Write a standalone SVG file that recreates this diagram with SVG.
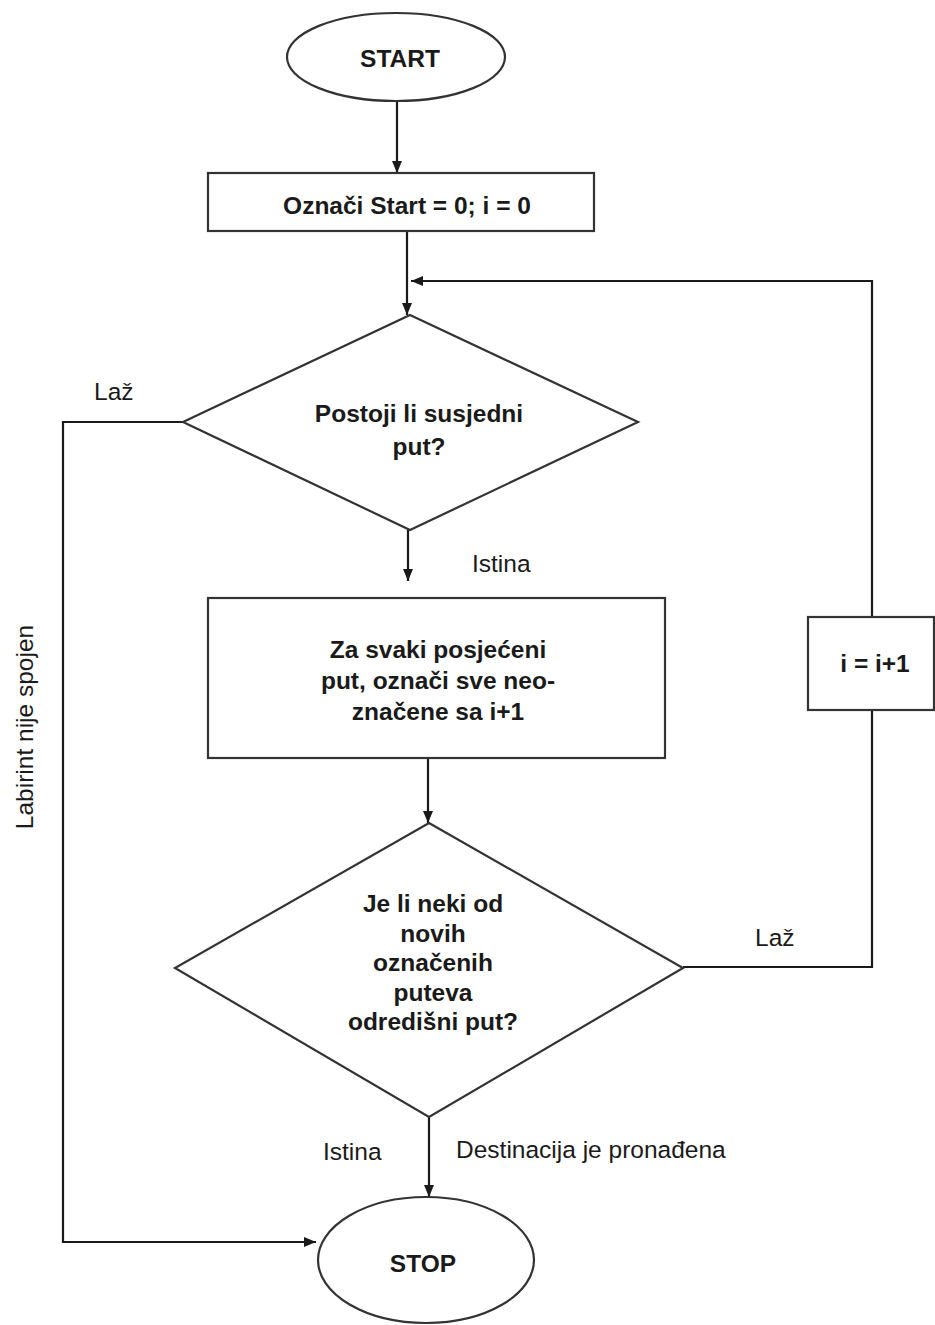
<svg xmlns="http://www.w3.org/2000/svg" width="935" height="1325" viewBox="0 0 935 1325">
<defs>
<marker id="ah" viewBox="0 0 12 10" refX="12" refY="5" markerWidth="12" markerHeight="10" markerUnits="userSpaceOnUse" orient="auto">
<path d="M0,0 L12,5 L0,10 Z" fill="#1a1a1a"/>
</marker>
<style>
.shape{fill:#fff;stroke:#333;stroke-width:2.2}
.conn{fill:none;stroke:#1a1a1a;stroke-width:2.2}
.b{font-family:"Liberation Sans",Arial,sans-serif;font-weight:bold;font-size:24.5px;fill:#1a1a1a;text-anchor:middle}
.l{font-family:"Liberation Sans",Arial,sans-serif;font-size:24.5px;fill:#1a1a1a}
</style>
</defs>
<rect width="935" height="1325" fill="#fff"/>
<g id="connectors">
<path class="conn" d="M397,101 V173" marker-end="url(#ah)"/>
<path class="conn" d="M407,231 V315" marker-end="url(#ah)"/>
<path class="conn" d="M872,617 V281 H411" marker-end="url(#ah)"/>
<path class="conn" d="M408,530 V581" marker-end="url(#ah)"/>
<path class="conn" d="M428,758 V823" marker-end="url(#ah)"/>
<path class="conn" d="M683,967 H872 V710"/>
<path class="conn" d="M186,422 H63 V1242 H316" marker-end="url(#ah)"/>
<path class="conn" d="M429,1117 V1197" marker-end="url(#ah)"/>
</g>
<g id="labels">
<text class="l" x="94" y="400">Laž</text>
<text class="l" x="472" y="572">Istina</text>
<text class="l" x="755" y="946">Laž</text>
<text class="l" x="323" y="1160">Istina</text>
<text class="l" x="456" y="1158">Destinacija je pronađena</text>
<text class="l" transform="translate(33,727) rotate(-90)" text-anchor="middle">Labirint nije spojen</text>
</g>
<g id="start">
<ellipse class="shape" cx="396" cy="57" rx="109" ry="44"/>
<text class="b" x="400" y="67">START</text>
</g>
<g id="init">
<rect class="shape" x="208" y="173" width="386" height="58"/>
<text class="b" x="407" y="214">Označi Start = 0; i = 0</text>
</g>
<g id="decision1">
<polygon class="shape" points="410,315 638,422 410,530 183,422"/>
<text class="b" x="419" y="422">Postoji li susjedni</text>
<text class="b" x="419" y="455">put?</text>
</g>
<g id="mark">
<rect class="shape" x="208" y="598" width="457" height="160"/>
<text class="b" x="438" y="658">Za svaki posjećeni</text>
<text class="b" x="438" y="689">put, označi sve neo-</text>
<text class="b" x="438" y="720">značene sa i+1</text>
</g>
<g id="decision2">
<polygon class="shape" points="429,823 683,968 429,1117 175,968"/>
<text class="b" x="433" y="912">Je li neki od</text>
<text class="b" x="433" y="942">novih</text>
<text class="b" x="433" y="971">označenih</text>
<text class="b" x="433" y="1001">puteva</text>
<text class="b" x="433" y="1030">odredišni put?</text>
</g>
<g id="increment">
<rect class="shape" x="808" y="617" width="126" height="93"/>
<text class="b" x="875" y="672">i = i+1</text>
</g>
<g id="stop">
<ellipse class="shape" cx="426" cy="1260" rx="108" ry="63"/>
<text class="b" x="423" y="1272">STOP</text>
</g>
</svg>
